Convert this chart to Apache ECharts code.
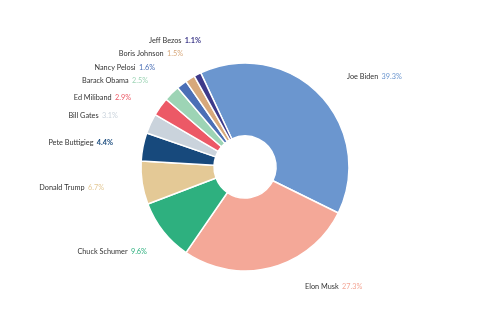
<!DOCTYPE html>
<html>
<head>
<meta charset="utf-8">
<script src="https://cdn.jsdelivr.net/npm/echarts@6/dist/echarts.min.js"></script>
<style>
html,body{margin:0;padding:0;background:#fff;}
#chart{width:500px;height:330px;}
</style>
</head>
<body>
<div id="chart"></div>
<script>
const names = ["Joe Biden","Elon Musk","Chuck Schumer","Donald Trump","Pete Buttigieg","Bill Gates","Ed Miliband","Barack Obama","Nancy Pelosi","Boris Johnson","Jeff Bezos"];
const shares = [39.3,27.3,9.6,6.7,4.4,3.1,2.9,2.5,1.6,1.5,1.1];
const colors = ["#6b96cf","#f4a898","#2eb07f","#e4c996","#17497c","#cad3dc","#ec5966","#9dd4b5","#4b6fb6","#d7a87b","#3e3a8a"];
// label offset styling (radial length and horizontal length) per slice
const labelLen  = [24.5,20,32.8,33,20,19.4,15.8,17.2,20.7,29,37.6];
const labelLen2 = [5.3,23.8,-14.5,0.6,5.4,9.9,11.4,6.5,9.2,-13.2,-25.7];

const FONT = 'Lato';
const FS = 7.3;
const chart = echarts.init(document.getElementById('chart'), null, {renderer:'canvas'});
const data = names.map((n,i)=>({
  name:n, value:shares[i],
  itemStyle:{color:colors[i]},
  labelLine:{show:false, length:labelLen[i], length2:labelLen2[i]},
  label:{rich:{p:{color:colors[i], fontSize:FS, fontFamily:FONT, fontWeight: i===4||i===10 ? 'bold':'normal'}}}
}));
chart.setOption({
  animation:false,
  series:[{
    type:'pie',
    center:[245,167],
    radius:[31,104],
    startAngle:115.2,
    clockwise:true,
    avoidLabelOverlap:false,
    data:data,
    itemStyle:{borderColor:'#fff', borderWidth:1.5},
    label:{
      show:true,
      position:'outside',
      distanceToLabelLine:5,
      formatter:p=>'{n|'+p.name+'} {p|'+p.value.toFixed(1)+'%}',
      rich:{n:{color:'#333', fontSize:FS, fontFamily:FONT}}
    },
    emphasis:{disabled:true}
  }]
});
</script>
</body>
</html>
